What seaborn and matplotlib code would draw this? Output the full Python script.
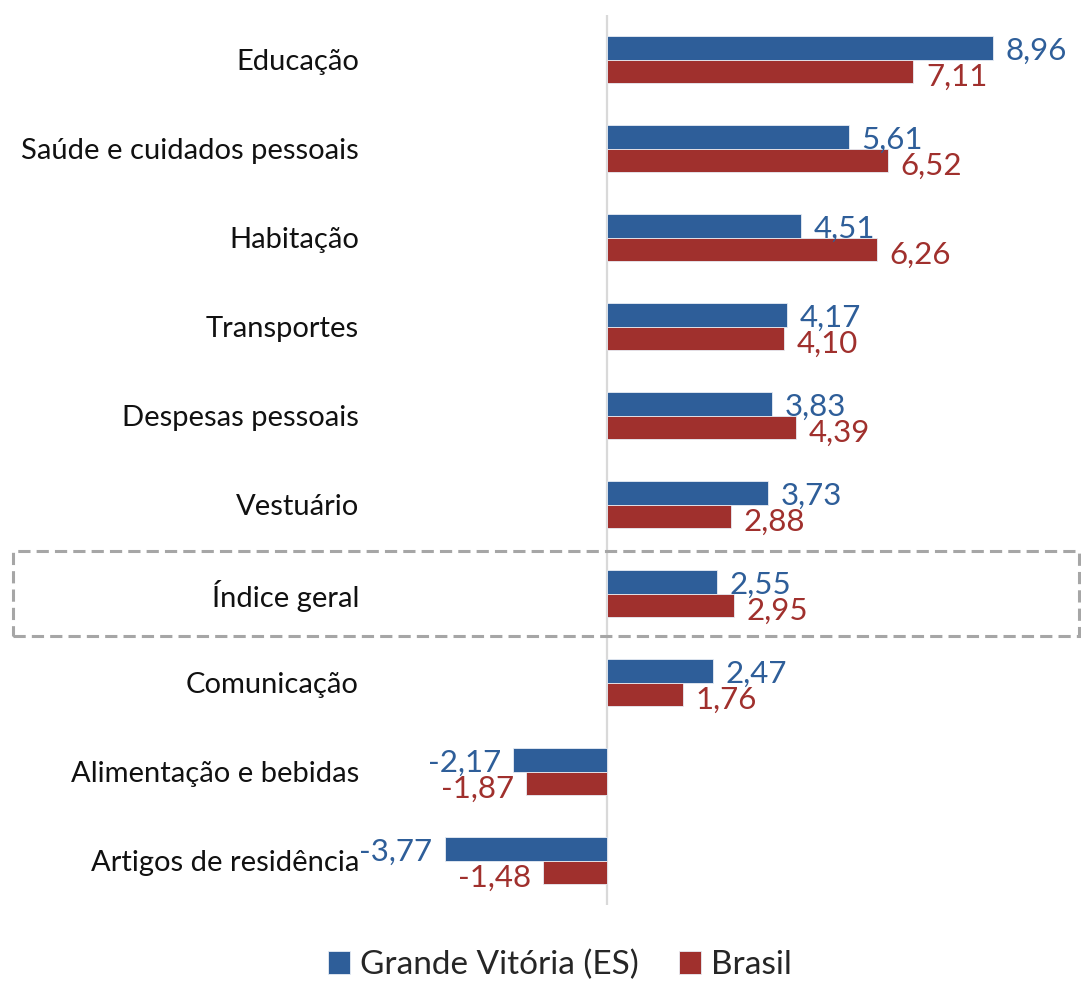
import seaborn as sns
import pandas as pd
import matplotlib.pyplot as plt
import matplotlib.transforms as mtransforms
from matplotlib.patches import Rectangle

categorias = ['Educação', 'Saúde e cuidados pessoais', 'Habitação', 'Transportes',
              'Despesas pessoais', 'Vestuário', 'Índice geral', 'Comunicação',
              'Alimentação e bebidas', 'Artigos de residência']
grande_vitoria = [8.96, 5.61, 4.51, 4.17, 3.83, 3.73, 2.55, 2.47, -2.17, -3.77]
brasil = [7.11, 6.52, 6.26, 4.10, 4.39, 2.88, 2.95, 1.76, -1.87, -1.48]
series = ['Grande Vitória (ES)', 'Brasil']
cores = ['#2E5E99', '#A0302D']

df = pd.DataFrame({
    'categoria': categorias * 2,
    'valor': grande_vitoria + brasil,
    'serie': [series[0]] * len(categorias) + [series[1]] * len(categorias),
})

sns.set_style('white')
plt.rcParams['font.family'] = ['Lato', 'DejaVu Sans']

fig = plt.figure(figsize=(10.81, 9.82), dpi=100)
ax = fig.add_axes([370 / 1081, 77 / 982, 711 / 1081, 890 / 982])

sns.barplot(data=df, y='categoria', x='valor', hue='serie', orient='h',
            palette=cores, saturation=1, width=0.52, edgecolor='#e8edf4',
            linewidth=0.6, ax=ax, legend=True)

ax.set_xlim(-5.5, 11)
ax.set_ylim(len(categorias) - 0.5, -0.5)
ax.set_xlabel('')
ax.set_ylabel('')
ax.set_xticks([])
for s in ax.spines.values():
    s.set_visible(False)
ax.axvline(0, color='#d9d9d9', lw=1.6, zorder=0)
ax.tick_params(axis='y', length=0, pad=8, labelsize=21, labelcolor='#111111')

# rótulos com vírgula decimal, um pouco abaixo do centro da barra
for cont, cor, desloc in zip(ax.containers, cores, [-2, -4]):
    labels = [f'{b.get_width():.2f}'.replace('.', ',') for b in cont]
    textos = ax.bar_label(cont, labels=labels, padding=9, color=cor, fontsize=22.5)
    for t in textos:
        t.xyann = (t.xyann[0], desloc)

# destaque do índice geral
i = categorias.index('Índice geral')
trans = mtransforms.blended_transform_factory(fig.transFigure, ax.transData)
rect = Rectangle((13 / 1081, i + 0.48), 1066 / 1081, -0.96, transform=trans,
                 fill=False, edgecolor='#a6a6a6', lw=2.2, ls=(0, (4, 2)),
                 clip_on=False)
fig.patches.append(rect)

handles, lbls = ax.get_legend_handles_labels()
ax.get_legend().remove()
fig.legend(handles, lbls, loc='center', bbox_to_anchor=(0.518, 1 - 965 / 982),
           ncol=2, frameon=False, fontsize=24, handlelength=0.65,
           handleheight=0.65, handletextpad=0.3, columnspacing=1.2)

fig.savefig('out.png', dpi=100)
